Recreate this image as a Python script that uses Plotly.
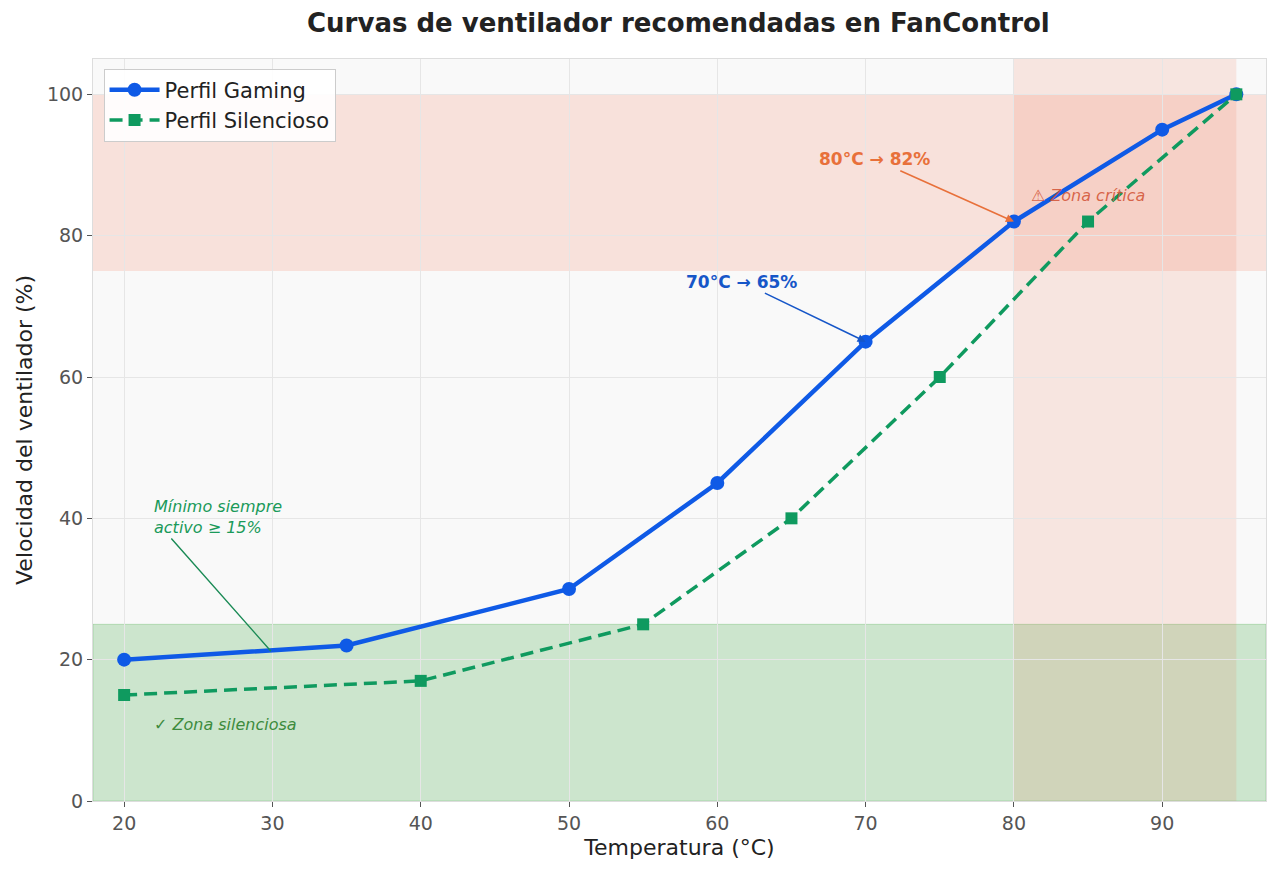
import plotly.graph_objects as go

temp_gaming = [20, 35, 50, 60, 70, 80, 90, 95]
speed_gaming = [20, 22, 30, 45, 65, 82, 95, 100]
temp_silent = [20, 40, 55, 65, 75, 85, 95]
speed_silent = [15, 17, 25, 40, 60, 82, 100]
x_ticks = [20, 30, 40, 50, 60, 70, 80, 90]
y_ticks = [0, 20, 40, 60, 80, 100]

FONT = "DejaVu Sans"
BLUE = "#0f5ae6"
GREEN = "#0f9a5f"

fig = go.Figure()
fig.add_trace(go.Scatter(
    x=temp_gaming, y=speed_gaming, mode="lines+markers", name="Perfil Gaming",
    line=dict(color=BLUE, width=4.5),
    marker=dict(symbol="circle", size=14, color=BLUE)))
fig.add_trace(go.Scatter(
    x=temp_silent, y=speed_silent, mode="lines+markers", name="Perfil Silencioso",
    line=dict(color=GREEN, width=3.5, dash="13px,7px"),
    marker=dict(symbol="square", size=12, color=GREEN)))

# shaded zones
fig.add_shape(type="rect", xref="paper", yref="y", x0=0, x1=1, y0=75, y1=100,
              fillcolor="rgba(240,90,50,0.15)", line_width=0, layer="below")
fig.add_shape(type="rect", xref="paper", yref="y", x0=0, x1=1, y0=0, y1=25,
              fillcolor="rgba(76,175,80,0.26)", line=dict(color="rgba(76,175,80,0.3)", width=1), layer="below")
fig.add_shape(type="rect", xref="x", yref="paper", x0=80, x1=95, y0=0, y1=1,
              fillcolor="rgba(240,90,50,0.12)", line_width=0, layer="below")

fig.add_annotation(x=80, y=82, ax=70.6, ay=90.8, axref="x", ayref="y",
                   text="<b>80°C → 82%</b>", showarrow=True, arrowhead=2, arrowsize=1,
                   arrowwidth=1.6, arrowcolor="#e8703a",
                   font=dict(family=FONT, size=17, color="#e8703a"))
fig.add_annotation(x=70, y=65, ax=61.6, ay=73.5, axref="x", ayref="y",
                   text="<b>70°C → 65%</b>", showarrow=True, arrowhead=2, arrowsize=1,
                   arrowwidth=1.6, arrowcolor="#1656c8",
                   font=dict(family=FONT, size=17, color="#1656c8"))
fig.add_annotation(x=81.0, y=85.7, text="<i>⚠ Zona crítica</i>", showarrow=False,
                   xanchor="left", font=dict(family=FONT, size=16, color="rgba(210,80,50,0.85)"))
fig.add_annotation(x=29.9, y=21.2, ax=21.9, ay=40.2, axref="x", ayref="y",
                   text="<i>Mínimo siempre<br>activo ≥ 15%</i>", align="left", xanchor="left",
                   showarrow=True, arrowhead=0, arrowwidth=1.4, arrowcolor="#1a8a55",
                   standoff=0, startstandoff=0,
                   font=dict(family=FONT, size=16, color="#1a9a5a"))
fig.add_annotation(x=21.9, y=10.8, text="<i>✓ Zona silenciosa</i>", showarrow=False,
                   xanchor="left", font=dict(family=FONT, size=16, color="#3d8b3d"))

fig.update_layout(
    width=1280, height=875,
    margin=dict(l=93, r=14, t=59, b=74),
    paper_bgcolor="white", plot_bgcolor="#f9f9f9",
    font=dict(family=FONT, size=19, color="#555"),
    title=dict(text="<b>Curvas de ventilador recomendadas en FanControl</b>",
               x=0.53, xanchor="center", y=0.974, yanchor="middle",
               font=dict(family=FONT, size=26, color="#222")),
    legend=dict(x=0.009, y=0.987, xanchor="left", yanchor="top",
                bgcolor="rgba(255,255,255,0.9)", bordercolor="#ccc", borderwidth=1,
                font=dict(family=FONT, size=21, color="#222"), itemwidth=50),
    showlegend=True,
)
fig.update_xaxes(range=[17.9, 97.0], tickvals=x_ticks, showgrid=True, gridcolor="#e6e6e6",
                 zeroline=False, ticks="outside", ticklen=5, tickcolor="#555",
                 showline=True, linecolor="#ddd", mirror=True,
                 title=dict(text="Temperatura (°C)", font=dict(family=FONT, size=22, color="#222"), standoff=6))
fig.update_yaxes(range=[0, 105], tickvals=y_ticks, showgrid=True, gridcolor="#e6e6e6",
                 zeroline=False, ticks="outside", ticklen=5, tickcolor="#555",
                 showline=True, linecolor="#ddd", mirror=True,
                 title=dict(text="Velocidad del ventilador (%)", font=dict(family=FONT, size=22, color="#222"), standoff=8))

fig.write_html("out.html")
